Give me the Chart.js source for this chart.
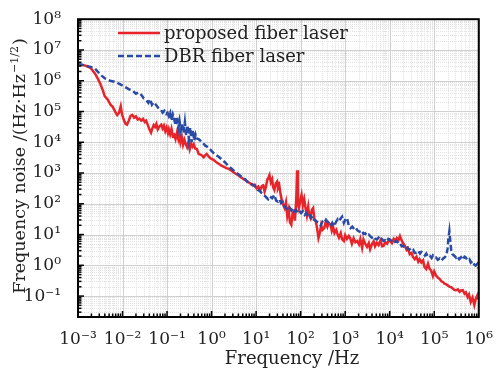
<!DOCTYPE html>
<html>
<head>
<meta charset="utf-8">
<script src="https://cdn.jsdelivr.net/npm/chart.js@4/dist/chart.umd.min.js"></script>
<style>
	html, body { margin: 0; padding: 0; background: #fff; }
	#wrap { width: 497px; height: 376px; }
</style>
</head>
<body>
<div id="wrap"><canvas id="noiseChart" width="497" height="376"></canvas></div>
<script>
// Series names
const seriesNames = ['proposed fiber laser', 'DBR fiber laser'];

// Decade exponents (frequency in Hz, noise in Hz/Hz^1/2)
const redFreqExp = [
	-3.00, -2.85, -2.72, -2.62, -2.55, -2.50, -2.44, -2.40, -2.33, -2.27, -2.22, -2.16, -2.12, -2.08, -2.04, -2.01,
	-1.97, -1.93, -1.90, -1.86, -1.82, -1.78, -1.74, -1.70, -1.66, -1.62, -1.58, -1.54, -1.50, -1.47, -1.43, -1.39,
	-1.36, -1.33, -1.30, -1.27, -1.24, -1.21, -1.17, -1.13, -1.10, -1.07, -1.04, -1.01, -0.98, -0.96, -0.93, -0.90,
	-0.87, -0.84, -0.81, -0.78, -0.75, -0.73, -0.70, -0.67, -0.64, -0.61, -0.58, -0.55, -0.52, -0.49, -0.46, -0.43,
	-0.40, -0.37, -0.33, -0.29, -0.25, -0.21, -0.18, -0.14, -0.11, -0.07, -0.03, 0.00, 0.05, 0.10, 0.16, 0.22,
	0.28, 0.33, 0.38, 0.44, 0.50, 0.55, 0.60, 0.66, 0.72, 0.77, 0.82, 0.87, 0.92, 0.97, 1.01, 1.05,
	1.09, 1.13, 1.16, 1.19, 1.22, 1.25, 1.28, 1.30, 1.33, 1.36, 1.38, 1.41, 1.44, 1.47, 1.49, 1.52,
	1.55, 1.58, 1.61, 1.64, 1.67, 1.70, 1.73, 1.76, 1.79, 1.82, 1.85, 1.87, 1.90, 1.92, 1.94, 1.96,
	1.99, 2.02, 2.05, 2.08, 2.11, 2.14, 2.17, 2.19, 2.22, 2.25, 2.28, 2.31, 2.34, 2.37, 2.40, 2.43,
	2.46, 2.49, 2.53, 2.56, 2.60, 2.63, 2.67, 2.70, 2.73, 2.76, 2.80, 2.83, 2.86, 2.90, 2.93, 2.97,
	3.00, 3.04, 3.08, 3.11, 3.15, 3.19, 3.23, 3.27, 3.31, 3.34, 3.38, 3.41, 3.45, 3.49, 3.53, 3.56,
	3.60, 3.64, 3.67, 3.71, 3.75, 3.79, 3.83, 3.86, 3.90, 3.94, 3.98, 4.01, 4.05, 4.09, 4.13, 4.16,
	4.20, 4.23, 4.27, 4.31, 4.34, 4.38, 4.41, 4.45, 4.49, 4.52, 4.56, 4.60, 4.64, 4.67, 4.71, 4.75,
	4.78, 4.82, 4.86, 4.89, 4.93, 4.97, 5.00, 5.04, 5.08, 5.12, 5.16, 5.20, 5.23, 5.27, 5.31, 5.35,
	5.38, 5.42, 5.45, 5.49, 5.53, 5.57, 5.60, 5.64, 5.68, 5.71, 5.75, 5.78, 5.82, 5.86, 5.90, 5.93,
	5.97, 6.00
];
const redNoiseExp = [
	6.53, 6.50, 6.42, 6.24, 6.05, 5.90, 5.68, 5.50, 5.38, 5.22, 5.15, 4.98, 4.88, 4.95, 5.17, 4.90,
	4.72, 4.60, 4.57, 4.70, 4.86, 4.89, 4.80, 4.84, 4.74, 4.77, 4.70, 4.76, 4.66, 4.70, 4.55, 4.40,
	4.31, 4.45, 4.56, 4.50, 4.60, 4.42, 4.52, 4.57, 4.45, 4.54, 4.36, 4.48, 4.30, 4.42, 4.26, 4.44,
	4.20, 4.24, 4.10, 4.30, 4.12, 4.31, 4.00, 4.18, 3.92, 4.08, 3.94, 3.84, 4.00, 3.78, 3.95, 3.86,
	3.94, 3.80, 3.78, 3.62, 3.60, 3.56, 3.51, 3.58, 3.62, 3.55, 3.48, 3.46, 3.42, 3.36, 3.30, 3.24,
	3.20, 3.16, 3.14, 3.08, 3.02, 2.97, 2.93, 2.86, 2.80, 2.76, 2.71, 2.66, 2.60, 2.62, 2.50, 2.56,
	2.44, 2.58, 2.60, 2.40, 2.55, 2.78, 2.86, 2.93, 2.70, 2.80, 2.55, 2.45, 2.66, 2.72, 2.50, 2.60,
	2.30, 2.10, 1.96, 1.86, 2.05, 1.60, 1.80, 1.40, 1.32, 1.70, 1.76, 1.45, 2.10, 3.09, 2.00, 1.86,
	2.10, 2.29, 1.95, 2.15, 1.86, 1.62, 1.90, 1.64, 1.54, 1.80, 1.86, 1.50, 1.43, 1.20, 0.89, 1.05,
	1.30, 1.15, 1.21, 1.40, 1.25, 1.38, 1.32, 1.12, 1.25, 1.05, 1.15, 1.00, 0.90, 1.05, 0.85, 0.79,
	0.98, 0.86, 0.95, 0.89, 0.70, 0.88, 0.75, 0.79, 0.68, 0.85, 0.57, 0.84, 0.70, 0.60, 0.72, 0.52,
	0.68, 0.78, 0.62, 0.73, 0.66, 0.80, 0.62, 0.63, 0.75, 0.70, 0.82, 0.79, 0.72, 0.86, 0.80, 0.89,
	0.82, 0.95, 0.80, 0.70, 0.63, 0.50, 0.55, 0.36, 0.40, 0.28, 0.20, 0.28, 0.12, 0.20, 0.09, 0.16,
	-0.05, -0.12, 0.05, -0.10, -0.17, -0.35, -0.20, -0.33, -0.40, -0.44, -0.52, -0.55, -0.60, -0.62, -0.66, -0.70,
	-0.71, -0.76, -0.80, -0.81, -0.78, -0.86, -0.82, -0.81, -0.92, -0.88, -1.03, -0.95, -1.19, -1.05, -1.29, -1.10,
	-0.97, -1.12
];

const blueFreqExp = [
	-3.00, -2.85, -2.72, -2.62, -2.50, -2.40, -2.28, -2.18, -2.07, -1.96, -1.85, -1.76, -1.70, -1.64, -1.58, -1.52,
	-1.47, -1.42, -1.38, -1.34, -1.30, -1.25, -1.20, -1.14, -1.10, -1.06, -1.02, -0.99, -0.96, -0.93, -0.90, -0.87,
	-0.84, -0.81, -0.78, -0.75, -0.72, -0.69, -0.66, -0.63, -0.60, -0.57, -0.54, -0.51, -0.48, -0.45, -0.42, -0.39,
	-0.36, -0.33, -0.29, -0.25, -0.20, -0.14, -0.07, 0.01, 0.08, 0.16, 0.23, 0.30, 0.38, 0.45, 0.52, 0.60,
	0.67, 0.75, 0.82, 0.90, 0.97, 1.04, 1.08, 1.12, 1.17, 1.22, 1.27, 1.31, 1.36, 1.41, 1.45, 1.49,
	1.53, 1.56, 1.60, 1.64, 1.68, 1.71, 1.75, 1.79, 1.83, 1.86, 1.90, 1.93, 1.97, 2.01, 2.05, 2.09,
	2.13, 2.16, 2.20, 2.24, 2.27, 2.30, 2.34, 2.38, 2.42, 2.45, 2.49, 2.53, 2.57, 2.60, 2.64, 2.68,
	2.71, 2.75, 2.79, 2.83, 2.86, 2.90, 2.93, 2.97, 3.00, 3.04, 3.08, 3.12, 3.16, 3.20, 3.24, 3.27,
	3.31, 3.35, 3.38, 3.41, 3.45, 3.49, 3.53, 3.56, 3.60, 3.64, 3.68, 3.71, 3.75, 3.79, 3.82, 3.86,
	3.90, 3.94, 3.97, 4.01, 4.05, 4.09, 4.12, 4.16, 4.20, 4.23, 4.27, 4.30, 4.34, 4.38, 4.41, 4.45,
	4.49, 4.53, 4.56, 4.60, 4.64, 4.68, 4.71, 4.75, 4.79, 4.82, 4.86, 4.90, 4.94, 4.97, 5.01, 5.04,
	5.08, 5.12, 5.16, 5.20, 5.23, 5.27, 5.30, 5.32, 5.34, 5.36, 5.38, 5.41, 5.45, 5.49, 5.52, 5.56,
	5.60, 5.64, 5.68, 5.71, 5.75, 5.79, 5.82, 5.86, 5.90, 5.93, 5.97, 6.00
];
const blueNoiseExp = [
	6.55, 6.50, 6.45, 6.40, 6.20, 6.08, 6.00, 5.97, 5.90, 5.81, 5.72, 5.66, 5.58, 5.62, 5.54, 5.42,
	5.38, 5.28, 5.40, 5.22, 5.30, 5.22, 5.12, 5.06, 4.96, 5.02, 4.92, 4.96, 4.85, 4.96, 4.70, 4.90,
	4.75, 4.55, 4.84, 4.45, 4.70, 4.40, 4.62, 4.30, 4.66, 4.22, 4.55, 4.10, 4.48, 4.00, 4.40, 4.05,
	4.25, 4.12, 4.10, 4.05, 3.98, 3.89, 3.83, 3.70, 3.60, 3.53, 3.44, 3.35, 3.22, 3.14, 3.05, 2.96,
	2.88, 2.80, 2.68, 2.64, 2.58, 2.45, 2.42, 2.36, 2.30, 2.22, 2.15, 2.24, 2.18, 2.29, 2.10, 2.07,
	2.14, 2.02, 2.06, 1.92, 1.85, 1.80, 1.88, 1.78, 1.85, 1.75, 1.80, 1.72, 1.78, 1.70, 1.76, 1.64,
	1.70, 1.60, 1.66, 1.54, 1.60, 1.48, 1.45, 1.40, 1.36, 1.30, 1.42, 1.38, 1.48, 1.42, 1.33, 1.30,
	1.38, 1.27, 1.40, 1.50, 1.44, 1.52, 1.58, 1.38, 1.48, 1.54, 1.30, 1.21, 1.26, 1.18, 1.22, 1.14,
	1.10, 1.08, 1.12, 1.02, 1.04, 0.96, 1.00, 0.95, 0.90, 0.94, 0.86, 0.84, 0.90, 0.82, 0.86, 0.79,
	0.82, 0.78, 0.86, 0.84, 0.78, 0.82, 0.76, 0.79, 0.70, 0.72, 0.62, 0.63, 0.58, 0.62, 0.52, 0.52,
	0.46, 0.50, 0.40, 0.41, 0.47, 0.38, 0.44, 0.41, 0.32, 0.38, 0.28, 0.31, 0.24, 0.32, 0.25, 0.25,
	0.18, 0.22, 0.15, 0.22, 0.25, 0.32, 0.55, 0.90, 1.11, 0.80, 0.50, 0.36, 0.31, 0.25, 0.30, 0.20,
	0.26, 0.18, 0.28, 0.25, 0.16, 0.20, 0.09, 0.14, 0.02, -0.01, 0.05, -0.12
];

// Tick labels (decade exponents)
const xTickExps = [-3, -2, -1, 0, 1, 2, 3, 4, 5, 6];
const yTickExps = [-1, 0, 1, 2, 3, 4, 5, 6, 7, 8];
const yMinExp = -1.68;

const seriesColors = ['#e8242b', '#2a4ba5'];
const FONT = "'DejaVu Serif', 'Liberation Serif', serif";
const supMap = { '-': '⁻', '0': '⁰', '1': '¹', '2': '²', '3': '³', '4': '⁴', '5': '⁵', '6': '⁶', '7': '⁷', '8': '⁸', '9': '⁹' };

function powLabel(exp) {
	return '10' + String(exp).split('').map((c) => supMap[c]).join('');
}

function toPoints(fx, vy) {
	return fx.map((e, i) => ({ x: Math.pow(10, e), y: Math.pow(10, vy[i]) }));
}

// grid lines + inner tick marks, drawn from the scales
const logGrid = {
	id: 'logGrid',
	beforeDatasetsDraw(chart) {
		const { ctx, chartArea: a, scales } = chart;
		const xs = scales.x;
		const ys = scales.y;
		ctx.save();
		ctx.lineWidth = 1;
		// minor, dotted
		ctx.strokeStyle = '#e2e2e2';
		ctx.setLineDash([1, 1]);
		for (let e = xTickExps[0]; e < xTickExps[xTickExps.length - 1]; e++) {
			for (let m = 2; m <= 9; m++) {
				const px = Math.round(xs.getPixelForValue(m * Math.pow(10, e))) + 0.5;
				ctx.beginPath();
				ctx.moveTo(px, a.top);
				ctx.lineTo(px, a.bottom);
				ctx.stroke();
			}
		}
		for (let e = yTickExps[0] - 1; e < yTickExps[yTickExps.length - 1]; e++) {
			for (let m = 2; m <= 9; m++) {
				const v = m * Math.pow(10, e);
				if (v < ys.min || v > ys.max) continue;
				const py = Math.round(ys.getPixelForValue(v)) + 0.5;
				ctx.beginPath();
				ctx.moveTo(a.left, py);
				ctx.lineTo(a.right, py);
				ctx.stroke();
			}
		}
		// major, solid
		ctx.setLineDash([]);
		ctx.strokeStyle = '#d0d0d0';
		xTickExps.forEach((e) => {
			const px = Math.round(xs.getPixelForValue(Math.pow(10, e))) + 0.5;
			ctx.beginPath();
			ctx.moveTo(px, a.top);
			ctx.lineTo(px, a.bottom);
			ctx.stroke();
		});
		yTickExps.forEach((e) => {
			const py = Math.round(ys.getPixelForValue(Math.pow(10, e))) + 0.5;
			ctx.beginPath();
			ctx.moveTo(a.left, py);
			ctx.lineTo(a.right, py);
			ctx.stroke();
		});
		ctx.restore();
	},
	afterDatasetsDraw(chart) {
		const { ctx, chartArea: a, scales } = chart;
		const xs = scales.x;
		const ys = scales.y;
		ctx.save();
		ctx.strokeStyle = '#000';
		ctx.lineWidth = 1.5;
		for (let e = xTickExps[0]; e < xTickExps[xTickExps.length - 1]; e++) {
			for (let m = 1; m <= 9; m++) {
				const px = xs.getPixelForValue(m * Math.pow(10, e));
				const len = m === 1 ? 6 : 3.5;
				ctx.beginPath();
				ctx.moveTo(px, a.bottom);
				ctx.lineTo(px, a.bottom - len);
				ctx.stroke();
			}
		}
		for (let e = yTickExps[0] - 1; e < yTickExps[yTickExps.length - 1]; e++) {
			for (let m = 1; m <= 9; m++) {
				const v = m * Math.pow(10, e);
				if (v < ys.min || v > ys.max) continue;
				const py = ys.getPixelForValue(v);
				const len = m === 1 ? 6 : 3.5;
				ctx.beginPath();
				ctx.moveTo(a.left, py);
				ctx.lineTo(a.left + len, py);
				ctx.stroke();
			}
		}
		// frame
		ctx.lineWidth = 2;
		ctx.strokeRect(a.left, a.top, a.right - a.left, a.bottom - a.top);
		ctx.restore();
	},
	afterDraw(chart) {
		const { ctx } = chart;
		ctx.save();
		// legend
		ctx.font = '18px ' + FONT;
		ctx.textBaseline = 'middle';
		ctx.fillStyle = '#222';
		chart.data.datasets.forEach((ds, i) => {
			const ly = 33 + i * 23;
			ctx.strokeStyle = ds.borderColor;
			ctx.lineWidth = 2.5;
			ctx.setLineDash(ds.borderDash || []);
			ctx.beginPath();
			ctx.moveTo(118, ly);
			ctx.lineTo(160, ly);
			ctx.stroke();
			ctx.fillText(ds.label, 164, ly + 1);
		});
		ctx.setLineDash([]);
		// x title
		ctx.font = '18px ' + FONT;
		ctx.textAlign = 'center';
		ctx.textBaseline = 'alphabetic';
		ctx.fillText('Frequency /Hz', 292, 364);
		// y title with superscript
		ctx.translate(25, 167);
		ctx.rotate(-Math.PI / 2);
		const main = 'Frequency noise /(Hz·Hz';
		const sup = '−1/2';
		const tail = ')';
		ctx.font = '17.5px ' + FONT;
		const w1 = ctx.measureText(main).width;
		const w3 = ctx.measureText(tail).width;
		ctx.font = '11px ' + FONT;
		const w2 = ctx.measureText(sup).width;
		let x0 = -(w1 + w2 + w3) / 2;
		ctx.textAlign = 'left';
		ctx.font = '17.5px ' + FONT;
		ctx.fillText(main, x0, 0);
		ctx.font = '11px ' + FONT;
		ctx.fillText(sup, x0 + w1 + 1, -7);
		ctx.font = '17.5px ' + FONT;
		ctx.fillText(tail, x0 + w1 + w2 + 2, 0);
		ctx.restore();
	},
};

const ctxNoise = document.getElementById('noiseChart').getContext('2d');

const noiseChart = new Chart(ctxNoise, {
	type: 'line',
	data: {
		datasets: [
			{
				label: seriesNames[0],
				data: toPoints(redFreqExp, redNoiseExp),
				borderColor: seriesColors[0],
				borderWidth: 2.5,
				pointRadius: 0,
				tension: 0,
				order: 1,
			},
			{
				label: seriesNames[1],
				data: toPoints(blueFreqExp, blueNoiseExp),
				borderColor: seriesColors[1],
				borderWidth: 2.5,
				borderDash: [6, 3],
				pointRadius: 0,
				tension: 0,
				order: 0,
			},
		],
	},
	options: {
		responsive: false,
		animation: false,
		layout: { padding: { left: 0, top: 15, right: 14, bottom: 0 } },
		plugins: {
			legend: { display: false },
			tooltip: { enabled: false },
		},
		scales: {
			x: {
				type: 'logarithmic',
				min: Math.pow(10, xTickExps[0]),
				max: Math.pow(10, xTickExps[xTickExps.length - 1]),
				grid: { display: false },
				border: { display: false },
				afterBuildTicks: (axis) => {
					axis.ticks = xTickExps.map((e) => ({ value: Math.pow(10, e) }));
				},
				afterFit: (axis) => {
					axis.height = 59;
				},
				ticks: {
					autoSkip: false,
					maxRotation: 0,
					padding: 4,
					color: '#222',
					font: { family: FONT, size: 17 },
					callback: (value) => powLabel(Math.round(Math.log10(value))),
				},
			},
			y: {
				type: 'logarithmic',
				min: Math.pow(10, yMinExp),
				max: Math.pow(10, yTickExps[yTickExps.length - 1]),
				grid: { display: false },
				border: { display: false },
				afterBuildTicks: (axis) => {
					axis.ticks = yTickExps.map((e) => ({ value: Math.pow(10, e) }));
				},
				afterFit: (axis) => {
					axis.width = 78;
				},
				ticks: {
					autoSkip: false,
					padding: 9,
					color: '#222',
					font: { family: FONT, size: 17 },
					callback: (value) => powLabel(Math.round(Math.log10(value))),
				},
			},
		},
	},
	plugins: [logGrid],
});
</script>
</body>
</html>
